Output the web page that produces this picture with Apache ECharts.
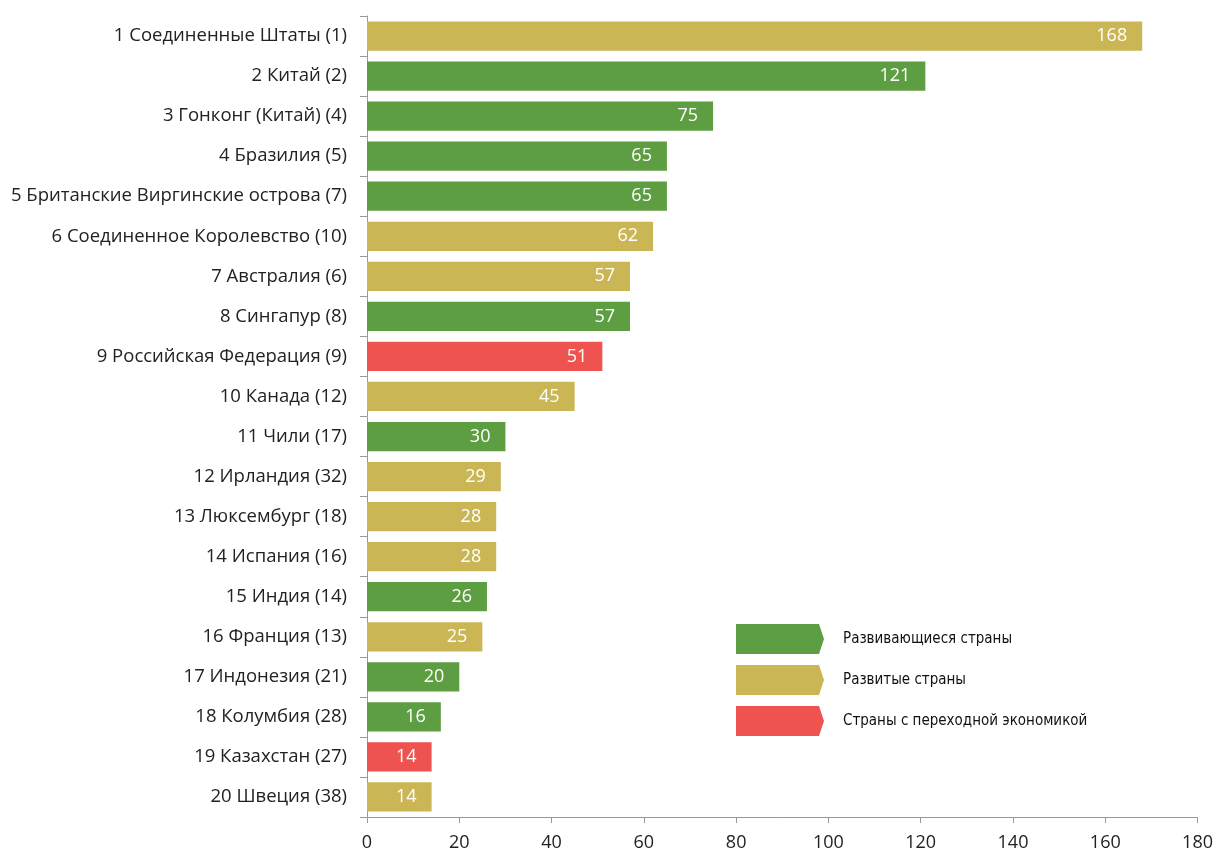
<!DOCTYPE html>
<html><head><meta charset="utf-8">
<script src="https://cdn.jsdelivr.net/npm/echarts@6/dist/echarts.min.js"></script>
<style>html,body{margin:0;padding:0;background:#fff}#c{width:1216px;height:852px}</style>
</head><body><div id="c"></div>
<script>
const categories = ["1 Соединенные Штаты (1)","2 Китай (2)","3 Гонконг (Китай) (4)","4 Бразилия (5)","5 Британские Виргинские острова (7)","6 Соединенное Королевство (10)","7 Австралия (6)","8 Сингапур (8)","9 Российская Федерация (9)","10 Канада (12)","11 Чили (17)","12 Ирландия (32)","13 Люксембург (18)","14 Испания (16)","15 Индия (14)","16 Франция (13)","17 Индонезия (21)","18 Колумбия (28)","19 Казахстан (27)","20 Швеция (38)"];
const values = [168,121,75,65,65,62,57,57,51,45,30,29,28,28,26,25,20,16,14,14];
const groups = ["dd","dg","dg","dg","dg","dd","dd","dg","tr","dd","dg","dd","dd","dd","dg","dd","dg","dg","tr","dd"];
const groupKeys = ["dg","dd","tr"];
const groupNames = ["Развивающиеся страны","Развитые страны","Страны с переходной экономикой"];
const xTicks = [0,20,40,60,80,100,120,140,160,180];

const colors = {dg:"#5E9E42", dd:"#CBB655", tr:"#EF5350"};
const labelFont = "Open Sans";
const series = groupKeys.map((k,i)=>({
  name: groupNames[i], type:"bar", stack:"s", barCategoryGap:"27%",
  itemStyle:{color:colors[k]},
  data: values.map((v,j)=> groups[j]===k ? v : "-"),
  label:{show:true, position:"insideRight", distance:15, color:"#fff", fontSize:18, fontFamily:labelFont}
}));
const chart = echarts.init(document.getElementById("c"));
chart.setOption({
  animation:false,
  grid:{left:367, right:18, top:16, bottom:35},
  xAxis:{type:"value", min:xTicks[0], max:xTicks[xTicks.length-1], interval:xTicks[1]-xTicks[0],
    axisLine:{show:true, lineStyle:{color:"#999"}},
    axisTick:{show:true, length:6, lineStyle:{color:"#999"}},
    splitLine:{show:false},
    axisLabel:{color:"#222", fontSize:18, fontFamily:labelFont, margin:17}},
  yAxis:{type:"category", data:categories, inverse:true,
    axisLine:{show:true, lineStyle:{color:"#999"}},
    axisTick:{show:true, length:7, lineStyle:{color:"#999"}},
    axisLabel:{color:"#222", fontSize:18.5, fontFamily:labelFont, margin:20}},
  legend:{orient:"vertical", left:731, top:619, itemWidth:88, itemHeight:30, itemGap:11,
    icon:"path://M0,0 L83,0 L88,15 L83,30 L0,30 Z",
    textStyle:{fontSize:15, color:"#111", fontFamily:"DejaVu Sans Condensed", padding:[0,0,0,14]},
    data:groupNames},
  series: series
});
</script></body></html>
